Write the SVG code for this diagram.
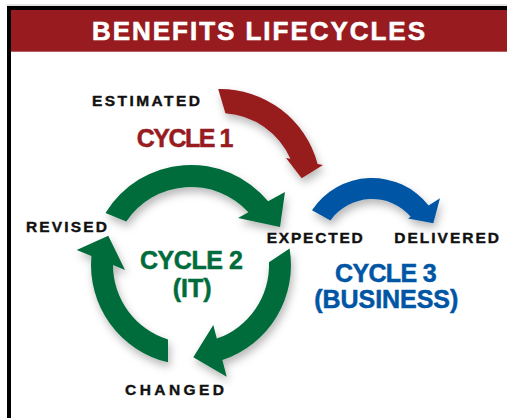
<svg xmlns="http://www.w3.org/2000/svg" width="507" height="418" viewBox="0 0 507 418">
  <style>
    .lbl { font-family: "Liberation Sans", Arial, sans-serif; font-weight: bold; }
    .small { font-size: 15.5px; fill: #111; stroke: #111; stroke-width: 0.4; }
    .big { font-size: 25px; stroke-width: 0.5; }
    .red { fill: #971b1f; stroke: #971b1f; }
    .green { fill: #006c3b; stroke: #006c3b; }
    .blue { fill: #0055a5; stroke: #0055a5; }
    .arrow { stroke: none; }
  </style>
  <defs>
    <filter id="shadow" x="-20%" y="-20%" width="140%" height="140%">
      <feDropShadow dx="2" dy="5" stdDeviation="4" flood-color="#000" flood-opacity="0.28"/>
    </filter>
  </defs>

  <!-- frame and header -->
  <g id="frame">
    <rect x="0" y="0" width="507" height="418" fill="#fff"/>
    <line x1="7" y1="5" x2="507" y2="5" stroke="#c8c8c8" stroke-width="1"/>
    <path d="M9,418 V8 H507" fill="none" stroke="#000" stroke-width="4"/>
    <rect x="11" y="10" width="496" height="41.7" fill="#971b1f"/>
    <text class="lbl" x="92" y="40" font-size="26" fill="#fff" stroke="#fff" stroke-width="0.6" textLength="333" lengthAdjust="spacing">BENEFITS LIFECYCLES</text>
  </g>

  <!-- cycle arrows -->
  <g id="connectors" filter="url(#shadow)">
    <!-- cycle 1: estimated to expected -->
    <path id="arrow-cycle1" class="arrow red" d="M218.2,89 A101,101 0 0 1 317.6,164 L323,165 L301.7,178.3 L286,158 L290.4,158.8 A77,77 0 0 0 225.4,113.2 Z"/>
    <!-- cycle 2: revised to expected -->
    <path id="arrow-cycle2-top" class="arrow green" d="M105.5,213 A100,100 0 0 1 268.1,201.3 L285,192 L280,227 L238,218 L248.4,212.2 A78,78 0 0 0 126.3,221.4 Z"/>
    <!-- cycle 2: expected to changed -->
    <path id="arrow-cycle2-right" class="arrow green" d="M289.6,248.5 A100,100 0 0 1 222.4,360 L226.7,376.7 L193.3,357.3 L213.3,325 L216.8,338.6 A78,78 0 0 0 269,262.3 Z"/>
    <!-- cycle 2: changed to revised -->
    <path id="arrow-cycle2-left" class="arrow green" d="M168,362.3 A100,100 0 0 1 91.4,256.1 L76.7,250 L108.3,235.7 L125,270 L113,265 A78,78 0 0 0 168,339.5 Z"/>
    <!-- cycle 3: expected to delivered -->
    <path id="arrow-cycle3" class="arrow blue" d="M312,210.2 A72,72 0 0 1 428.6,205.5 L440,198.3 L433.3,223.3 L408,218.5 L410.7,216.8 A51,51 0 0 0 330.5,220.4 Z"/>
  </g>

  <!-- stage labels -->
  <g id="estimated"><text class="lbl small" x="92" y="106" textLength="108" lengthAdjust="spacing">ESTIMATED</text></g>
  <g id="revised"><text class="lbl small" x="26" y="232" textLength="81" lengthAdjust="spacing">REVISED</text></g>
  <g id="expected"><text class="lbl small" x="266.7" y="242.5" textLength="96" lengthAdjust="spacing">EXPECTED</text></g>
  <g id="delivered"><text class="lbl small" x="394.3" y="242.5" textLength="104.7" lengthAdjust="spacing">DELIVERED</text></g>
  <g id="changed"><text class="lbl small" x="125" y="395" textLength="99" lengthAdjust="spacing">CHANGED</text></g>

  <!-- cycle titles -->
  <g id="cycle1"><text class="lbl big red" x="136.7" y="147" textLength="96.6" lengthAdjust="spacing">CYCLE 1</text></g>
  <g id="cycle2">
    <text class="lbl big green" x="140" y="268.5" textLength="103" lengthAdjust="spacing">CYCLE 2</text>
    <text class="lbl big green" x="172.7" y="296.5" textLength="39" lengthAdjust="spacing">(IT)</text>
  </g>
  <g id="cycle3">
    <text class="lbl big blue" x="335" y="281.5" textLength="101.7" lengthAdjust="spacing">CYCLE 3</text>
    <text class="lbl big blue" x="314.3" y="308" textLength="144" lengthAdjust="spacing">(BUSINESS)</text>
  </g>
</svg>
